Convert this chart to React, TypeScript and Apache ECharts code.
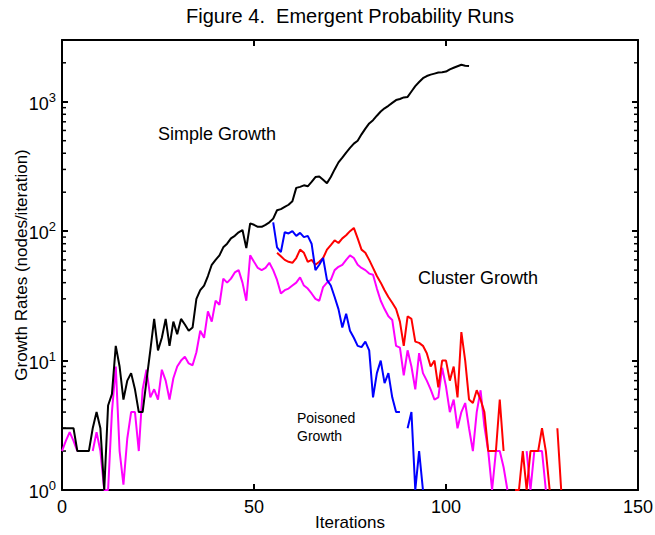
import React, { useEffect, useRef } from "react";
import * as echarts from "echarts";

const TITLE = "Figure 4.  Emergent Probability Runs";
const X_NAME = "Iterations";
const Y_NAME = "Growth Rates (nodes/iteration)";
const X_MIN = 0;
const X_MAX = 150;
const X_STEP = 50;
const Y_MIN = 1;
const Y_MAX = 3000;
const LABEL_SIMPLE = "Simple Growth";
const LABEL_CLUSTER = "Cluster Growth";
const LABEL_POISONED = "Poisoned\nGrowth";

// Simple Growth (black), iterations 0..106
const simpleStart = 0;
const simpleGrowth = [
  3, 3, 3, 3, 2, 2, 2, 2, 3, 4, 3, 1, 4.5, 5.5, 13, 9, 5, 7, 8, 6,
  4, 4, 7, 12, 21, 12, 15, 21, 13, 20, 16, 21, 19, 17, 18, 30, 35, 38, 45, 55,
  60, 65, 75, 80, 88, 92, 98, 102, 74, 115, 112, 108, 108, 112, 117, 125, 145, 148, 154, 160,
  170, 216, 220, 226, 222, 240, 262, 265, 250, 235, 262, 300, 340, 370, 405, 440, 475, 500, 560, 620,
  680, 720, 780, 840, 890, 930, 980, 1030, 1050, 1080, 1090, 1200, 1320, 1420, 1520, 1580, 1620, 1650, 1680, 1690,
  1710, 1780, 1830, 1880, 1930, 1900, 1890,
];

// Poisoned Growth (blue), iterations 55..94
const poisonedStart = 55;
const poisonedGrowth = [
  117, 75, 69, 98, 96, 100, 92, 97, 90, 92, 80, 50, 55, 62, 42, 38, 31, 25, 18, 23,
  17, 15, 13, 12.7, 14, 12, 5.2, 8, 10, 6.7, 8, 5.2, 4, 4, null, 3, 4, 1, 2, 1,
];

// Cluster Growth, upper run (red), iterations 56..130
const clusterStart = 56;
const clusterGrowth = [
  68, 64, 60, 58, 57, 62, 72, 68, 58, 60, 55, 58, 62, 72, 78, 85, 81, 88, 93, 100,
  106, 88, 72, 68, 60, 52, 45, 40, 35, 31, 28, 25, 20, 13, 22, 21, 14, 13.7, 13, 11.4,
  9, 10, 6.2, 10, 10, 7, 9, 5.2, 16.6, 10, 5, 4.7, 5.9, 5, 4, 2, 2, 2, 5, 2,
  null, null, 1, 1, 2, 1, 2, 2, 2, 3, 2, 1, null, 3, 1,
];

// Cluster Growth, lower run (magenta), iterations 0..126
const clusterLowStart = 0;
const clusterLowGrowth = [
  2, 2.4, 2.8, 2.4, 2, null, null, null, 2, 2.8, 2, 1, 1, 4, 9, 2, 1.1, 2.5, 4, 4,
  2, 6, 8.5, 5.2, 6, 5, 8.5, 7, 5, 7.3, 9, 10, 10.7, 9.5, 9.2, 11.6, 17, 15, 24, 20,
  29, 27, 43, 40, 43, 48, 50, 40, 29, 65, 58, 52, 50, 52, 57, 50, 42, 33, 35, 36,
  38, 40, 44, 38, 36, 33, 30, 29, 37, 40, 42, 50, 53, 55, 60, 65, 62, 55, 52, 50,
  47, 46, 36, 29, 25, 22, 20.6, 13, 12.6, 7.7, 12, 9, 6, 11.4, 8, 7, 6, 5, 5.2, 8.8,
  6.3, 4, 5, 3, 4, 4.7, 3, 2, 4, 5.9, 3.1, 2, 1, 2, 2, 1.5, 1, null, null, null,
  null, 2, 1, 2, 2, 2, 1,
];

const toPairs = (start: number, vals: (number | null)[]) =>
  vals.map((v, i) => [start + i, v]);

const FONT = "'Liberation Sans', Arial, sans-serif";

export default function App() {
  const ref = useRef<HTMLDivElement>(null);

  useEffect(() => {
    document.body.style.margin = "0";
    if (!ref.current) return;
    const chart = echarts.init(ref.current, null, { renderer: "svg" });

    const axisLine = { show: true, onZero: false, lineStyle: { color: "#000", width: 2 } };
    const tickStyle = { show: true, inside: true, length: 6, lineStyle: { color: "#000", width: 2 } };

    const line = (name: string, color: string, data: any[]) => ({
      name,
      type: "line",
      data,
      showSymbol: false,
      symbol: "none",
      connectNulls: false,
      lineStyle: { color, width: 2 },
      itemStyle: { color },
      z: 2,
    });

    chart.setOption({
      animation: false,
      backgroundColor: "#fff",
      grid: { left: 62, right: 17, top: 40, bottom: 45, containLabel: false, outerBoundsMode: "none" },
      xAxis: [
        {
          type: "value",
          min: X_MIN,
          max: X_MAX,
          interval: X_STEP,
          position: "bottom",
          axisLine,
          axisTick: tickStyle,
          splitLine: { show: false },
          axisLabel: { color: "#000", fontSize: 18, fontFamily: FONT, margin: 8 },
          name: X_NAME,
          nameLocation: "middle",
          nameGap: 24,
          nameMoveOverlap: false,
          nameTextStyle: { color: "#000", fontSize: 17, fontFamily: FONT },
        },
        {
          type: "value",
          min: X_MIN,
          max: X_MAX,
          interval: X_STEP,
          position: "top",
          axisLine,
          axisTick: tickStyle,
          splitLine: { show: false },
          axisLabel: { show: false },
        },
      ],
      yAxis: [
        {
          type: "log",
          logBase: 10,
          min: Y_MIN,
          max: Y_MAX,
          position: "left",
          axisLine,
          axisTick: tickStyle,
          splitLine: { show: false },
          axisLabel: {
            color: "#000",
            fontFamily: FONT,
            fontSize: 18,
            margin: 6,
            showMaxLabel: false,
            formatter: (v: number) => {
              const e = Math.round(Math.log10(v));
              if (Math.abs(Math.pow(10, e) - v) > 1e-6) return "";
              return "{b|10}{s|" + e + "}";
            },
            rich: {
              b: { fontSize: 18, fontFamily: FONT, color: "#000", lineHeight: 22, verticalAlign: "bottom" },
              s: { fontSize: 13, fontFamily: FONT, color: "#000", lineHeight: 22, verticalAlign: "top", padding: [0, 0, 8, 0] },
            },
          },
          name: Y_NAME,
          nameLocation: "middle",
          nameGap: 32,
          nameMoveOverlap: false,
          nameTextStyle: { color: "#000", fontSize: 17, fontFamily: FONT },
        },
        {
          type: "log",
          logBase: 10,
          min: Y_MIN,
          max: Y_MAX,
          position: "right",
          axisLine,
          axisTick: tickStyle,
          splitLine: { show: false },
          axisLabel: { show: false },
        },
      ],
      series: [
        line("Cluster Growth (low)", "#ff00ff", toPairs(clusterLowStart, clusterLowGrowth)),
        line("Cluster Growth", "#ff0000", toPairs(clusterStart, clusterGrowth)),
        line("Poisoned Growth", "#0000ff", toPairs(poisonedStart, poisonedGrowth)),
        line("Simple Growth", "#000000", toPairs(simpleStart, simpleGrowth)),
      ],
    });

    const gx0 = chart.convertToPixel({ xAxisIndex: 0 }, X_MIN) as number;
    const gx1 = chart.convertToPixel({ xAxisIndex: 0 }, X_MAX) as number;
    const gy1 = chart.convertToPixel({ yAxisIndex: 0 }, Y_MAX) as number;
    const cx = (gx0 + gx1) / 2;

    const graphics: any[] = [];
    for (let d = 1; d <= Y_MAX; d *= 10) {
      for (let m = 2; m <= 9; m++) {
        const v = m * d;
        if (v > Y_MAX) break;
        const y = chart.convertToPixel({ yAxisIndex: 0 }, v) as number;
        graphics.push({
          type: "line",
          shape: { x1: gx0, y1: y, x2: gx0 + 4, y2: y },
          style: { stroke: "#000", lineWidth: 1.5 },
          silent: true,
        });
        graphics.push({
          type: "line",
          shape: { x1: gx1 - 4, y1: y, x2: gx1, y2: y },
          style: { stroke: "#000", lineWidth: 1.5 },
          silent: true,
        });
      }
    }
    const txt = (text: string, x: number, y: number, size: number, align = "left") => ({
      type: "text",
      x,
      y,
      silent: true,
      style: {
        text,
        fill: "#000",
        fontSize: size,
        fontFamily: FONT,
        align,
        verticalAlign: "middle",
        lineHeight: size + 4,
      },
    });
    graphics.push(txt(TITLE, cx, gy1 - 24, 20, "center"));
    graphics.push(txt(LABEL_SIMPLE, 158, 134, 18));
    graphics.push(txt(LABEL_CLUSTER, 418, 278, 18));
    graphics.push(txt(LABEL_POISONED, 297, 427, 14));

    chart.setOption({ graphic: graphics });

    return () => chart.dispose();
  }, []);

  return <div ref={ref} style={{ width: 655, height: 535 }} />;
}
